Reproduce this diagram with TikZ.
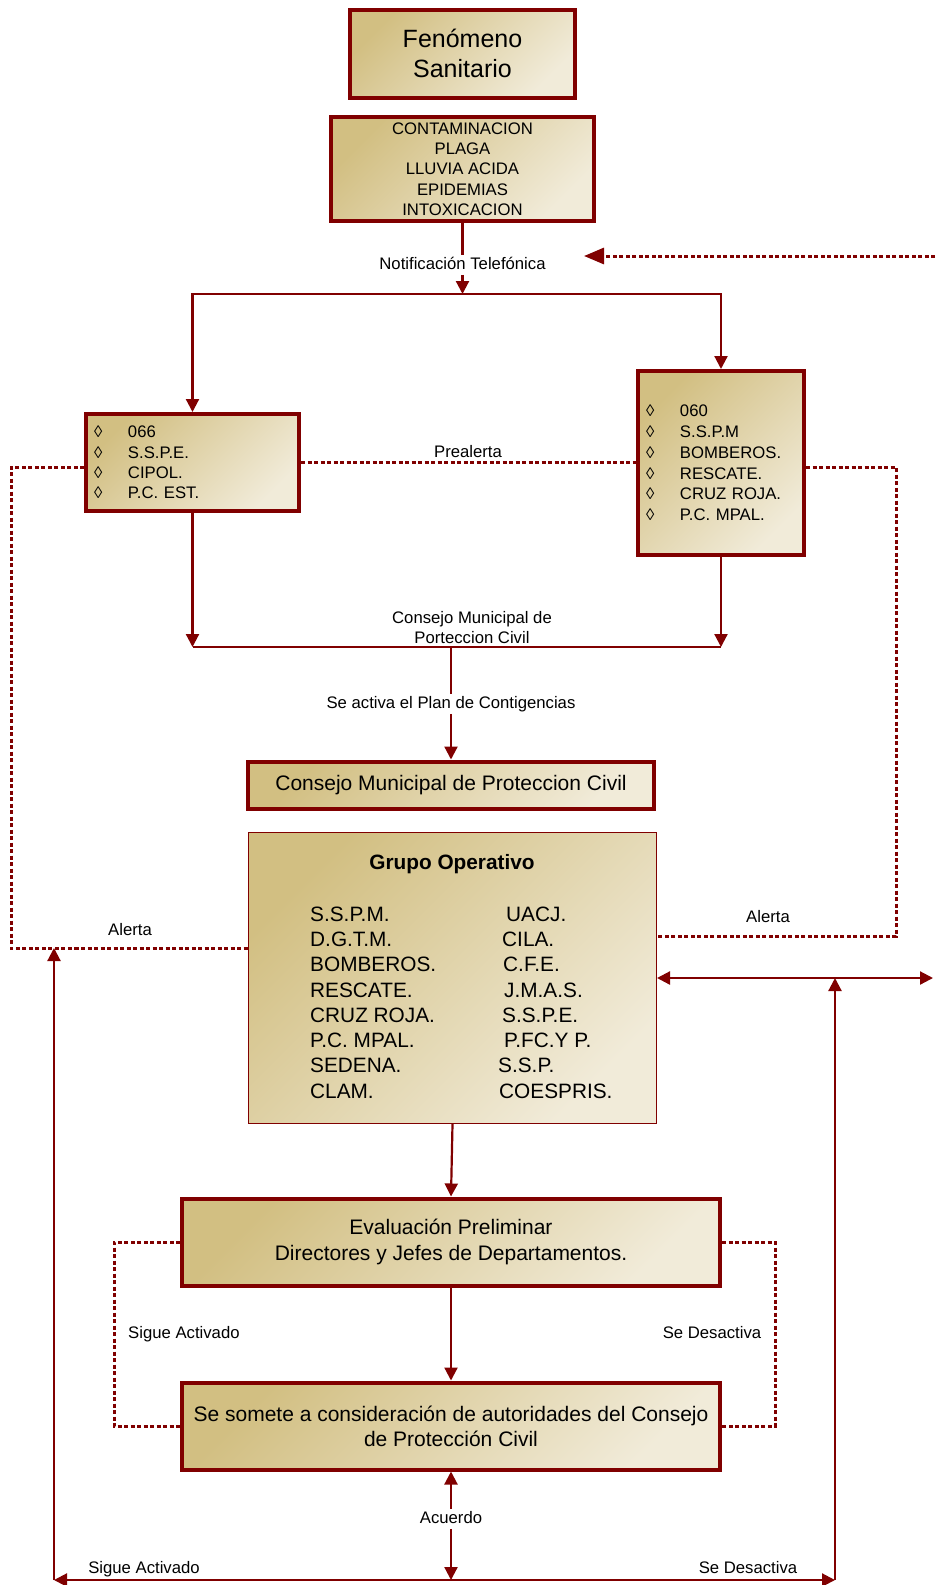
\documentclass[tikz,border=0pt]{standalone}
\usepackage{fontspec}
\setmainfont{Liberation Sans}
\usetikzlibrary{arrows.meta}
\definecolor{dred}{RGB}{128,0,0}
\definecolor{gdark}{RGB}{210,191,130}
\definecolor{gcream}{RGB}{241,235,217}
\newcommand{\fsz}[2]{\fontsize{#1}{#2}\selectfont}
\begin{document}
\begin{tikzpicture}[x=1pt,y=-1pt,
  box/.style={draw=dred,line width=4pt,top color=gdark,bottom color=gcream,shading angle=45,inner sep=0pt,align=center},
  thinbox/.style={draw=dred,line width=1pt,top color=gdark,bottom color=gcream,shading angle=45,inner sep=0pt},
  ln/.style={draw=dred,line width=2.2pt},
  arr/.style={ln,-{Triangle[length=13pt,width=13pt]}},
  darr/.style={ln,{Triangle[length=13pt,width=13pt]}-{Triangle[length=13pt,width=13pt]}},
  dotl/.style={draw=dred,line width=3pt,dash pattern=on 4pt off 2.5pt},
  lbl/.style={font=\fsz{16.7}{20.3},inner sep=2pt,text height=12.5pt,text depth=3.5pt,anchor=base},
  gtxt/.style={font=\fsz{20.8}{25.3},inner sep=0pt,anchor=west}]
\useasboundingbox (0,0) rectangle (935,1585);

% boxes
\node[box,minimum width=225pt,minimum height=88pt,font=\fsz{25}{30}] (fen) at (462.5,53.5) {Fenómeno\\Sanitario};
\node[box,minimum width=263pt,minimum height=104pt,font=\fsz{16.7}{20.3}] (cont) at (462.5,169) {CONTAMINACION\\PLAGA\\LLUVIA ACIDA\\EPIDEMIAS\\INTOXICACION};
\node[box,minimum width=213pt,minimum height=97pt,text width=197pt,align=left,font=\fsz{16.7}{20.3}] (lbox) at (192.5,462.5)
  {\makebox[34pt][l]{◊}066\\\makebox[34pt][l]{◊}S.S.P.E.\\\makebox[34pt][l]{◊}CIPOL.\\\makebox[34pt][l]{◊}P.C. EST.};
\node[box,minimum width=166pt,minimum height=184pt,text width=150pt,align=left,font=\fsz{16.7}{20.8}] (rbox) at (721,463)
  {\makebox[34pt][l]{◊}060\\\makebox[34pt][l]{◊}S.S.P.M\\\makebox[34pt][l]{◊}BOMBEROS.\\\makebox[34pt][l]{◊}RESCATE.\\\makebox[34pt][l]{◊}CRUZ ROJA.\\\makebox[34pt][l]{◊}P.C. MPAL.};
\node[box,minimum width=406pt,minimum height=47pt,font=\fsz{21}{25}] (consejo) at (451,785) {Consejo Municipal de Proteccion Civil};
\node[thinbox,minimum width=408pt,minimum height=291pt] (grupo) at (452.5,978) {};
\node[box,minimum width=538pt,minimum height=87pt,font=\fsz{21}{26}] (eval) at (451,1242) {Evaluación Preliminar\\Directores y Jefes de Departamentos.};
\node[box,minimum width=538pt,minimum height=87pt,font=\fsz{21}{25}] (somete) at (451,1426) {Se somete a consideración de autoridades del Consejo\\de Protección Civil};

% Grupo Operativo contents
\node[font=\fsz{20.8}{25}\bfseries,inner sep=0pt] (gt) at (452,864) {Grupo Operativo};
\node[gtxt] (g1) at (310,914) {S.S.P.M.};
\node[gtxt] (g2) at (310,939.3) {D.G.T.M.};
\node[gtxt] (g3) at (310,964.6) {BOMBEROS.};
\node[gtxt] (g4) at (310,989.9) {RESCATE.};
\node[gtxt] (g5) at (310,1015.2) {CRUZ ROJA.};
\node[gtxt] (g6) at (310,1040.5) {P.C. MPAL.};
\node[gtxt] (g7) at (310,1065.8) {SEDENA.};
\node[gtxt] (g8) at (310,1091.1) {CLAM.};
\node[gtxt] (h1) at (506,914) {UACJ.};
\node[gtxt] (h2) at (502,939.3) {CILA.};
\node[gtxt] (h3) at (503,964.6) {C.F.E.};
\node[gtxt] (h4) at (504,989.9) {J.M.A.S.};
\node[gtxt] (h5) at (502,1015.2) {S.S.P.E.};
\node[gtxt] (h6) at (504,1040.5) {P.FC.Y P.};
\node[gtxt] (h7) at (498,1065.8) {S.S.P.};
\node[gtxt] (h8) at (499,1091.1) {COESPRIS.};

% labels (placed by baseline)
\node[lbl] (notif) at (462.5,269.2) {Notificación Telefónica};
\node[lbl] (pre) at (468,457.7) {Prealerta};
\node[font=\fsz{16.7}{20.3},align=center,inner sep=0pt] (cmp) at (472,627.5) {Consejo Municipal de\\Porteccion Civil};
\node[lbl] (act) at (451,708.2) {Se activa el Plan de Contigencias};
\node[lbl] (al1) at (130,935.7) {Alerta};
\node[lbl] (al2) at (768,922.7) {Alerta};
\node[lbl,anchor=base west] (sa1) at (126,1338.2) {Sigue Activado};
\node[lbl] (sd1) at (712,1338.2) {Se Desactiva};
\node[lbl] (acu) at (451,1523.2) {Acuerdo};
\node[lbl] (sa2) at (144,1573.7) {Sigue Activado};
\node[lbl] (sd2) at (748,1573.7) {Se Desactiva};

% coordinates
\coordinate (j1) at (462.5,294);
\coordinate (j2) at (451,647);
\coordinate (dR) at (935,256);
\coordinate (dT) at (584,256);
\coordinate (aL) at (11,948);
\coordinate (aR) at (896,936);
\coordinate (gR) at (933,978);
\coordinate (bL) at (54,1580);
\coordinate (bR) at (835,1580);
\coordinate (bM) at (451,1580);
\coordinate (sL) at (114,1242);
\coordinate (sR) at (775,1242);

% solid connectors
\draw[ln] (cont.south) -- (notif.north);
\draw[arr] (notif.south) -- (j1);
\draw[arr] (j1) -| (lbox.north);
\draw[arr] (j1) -| (rbox.north);
\draw[arr] (lbox.south) -- (lbox.south |- j2);
\draw[arr] (rbox.south) -- (rbox.south |- j2);
\draw[ln] (lbox.south |- j2) -- (rbox.south |- j2);
\draw[ln] (j2) -- (act.north);
\draw[arr] (act.south) -- (consejo.north);
\draw[arr] (grupo.south) -- (eval.north);
\draw[arr] (eval.south) -- (somete.north);
\draw[arr] (acu.north) -- (somete.south);
\draw[arr] (acu.south) -- (bM);
\draw[darr] (bL) -- (bR);
\draw[arr] (bL) -- (bL |- aL);
\draw[arr] (bR) -- (bR |- grupo.east);
\draw[darr] (grupo.east) -- (gR);

% dotted connectors
\draw[dotl,-{Triangle[length=20pt,width=16pt]}] (dR) -- (dT);
\draw[dotl] (lbox.east) -- (lbox.east -| rbox.west);
\draw[dotl] ([yshift=-4.5pt]lbox.west) -| (aL) -- (grupo.west |- aL);
\draw[dotl] ([yshift=-4pt]rbox.east) -| (aR) -- (grupo.east |- aR);
\draw[dotl] (eval.west) -- (eval.west -| sL) -- (somete.west -| sL) -- (somete.west);
\draw[dotl] (eval.east) -- (eval.east -| sR) -- (somete.east -| sR) -- (somete.east);
\end{tikzpicture}
\end{document}
